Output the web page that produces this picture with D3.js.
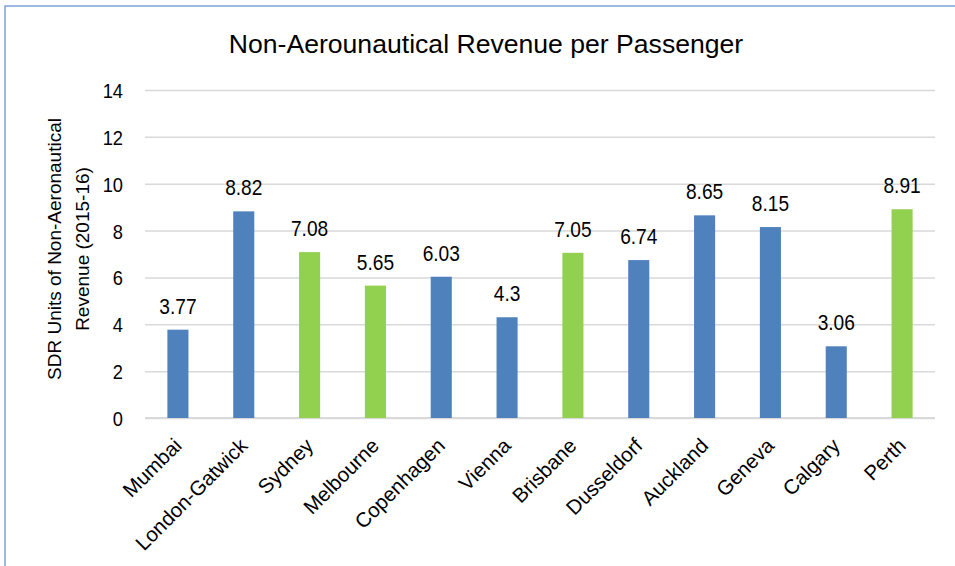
<!DOCTYPE html>
<html>
<head>
<meta charset="utf-8">
<script src="https://cdn.jsdelivr.net/npm/d3@7"></script>
<style>
  html, body { margin: 0; padding: 0; background: #fff; }
  svg text { font-family: "Liberation Sans", Arial, sans-serif; fill: #000; }
</style>
</head>
<body>
<svg id="chart" width="955" height="566"></svg>
<script>
// Airports and their non-aeronautical revenue per passenger (SDR, 2015-16)
const airports = ["Mumbai", "London-Gatwick", "Sydney", "Melbourne", "Copenhagen", "Vienna",
                  "Brisbane", "Dusseldorf", "Auckland", "Geneva", "Calgary", "Perth"];
const revenue = [3.77, 8.82, 7.08, 5.65, 6.03, 4.3, 7.05, 6.74, 8.65, 8.15, 3.06, 8.91];
// Australian airports are highlighted
const group = ["other", "other", "aus", "aus", "other", "other", "aus", "other", "other", "other", "other", "aus"];
const yTicks = [0, 2, 4, 6, 8, 10, 12, 14];
const titleText = "Non-Aerounautical Revenue per Passenger";
const yTitleLines = ["SDR Units of Non-Aeronautical", "Revenue (2015-16)"];

const colors = { other: "#4F81BD", aus: "#92D050" };
// numbers are drawn in a slightly condensed face
const numSqueeze = 0.87;

const svg = d3.select("#chart");
const plot = { left: 145, right: 935, top: 90, bottom: 418 };

// Outer frame
svg.append("rect")
  .attr("x", 5).attr("y", 6)
  .attr("width", 1000).attr("height", 600)
  .attr("fill", "none")
  .attr("stroke", "#7EA3D6")
  .attr("stroke-width", 1.5);

const x = d3.scaleBand()
  .domain(airports)
  .range([plot.left, plot.right])
  .paddingInner(0.68)
  .paddingOuter(0.34);

const y = d3.scaleLinear()
  .domain([0, 14])
  .range([plot.bottom, plot.top]);

// Horizontal gridlines + y tick labels
const yAxis = d3.axisLeft(y)
  .tickValues(yTicks)
  .tickSize(-(plot.right - plot.left))
  .tickPadding(0)
  .tickFormat(d3.format("d"));

const gy = svg.append("g")
  .attr("transform", `translate(${plot.left},0)`)
  .call(yAxis);
gy.attr("font-family", null);
gy.select(".domain").remove();
gy.selectAll(".tick line")
  .attr("stroke", "#D9D9D9")
  .attr("stroke-width", 1.5);
gy.selectAll(".tick text")
  .attr("font-size", 21)
  .attr("x", 0)
  .attr("dy", "0.36em")
  .attr("transform", `translate(-22,0) scale(${numSqueeze},1)`);

// Baseline
svg.append("line")
  .attr("x1", plot.left).attr("x2", plot.right)
  .attr("y1", y(0)).attr("y2", y(0))
  .attr("stroke", "#D9D9D9")
  .attr("stroke-width", 2);

// Bars
svg.append("g").selectAll("rect")
  .data(airports)
  .join("rect")
  .attr("x", d => x(d))
  .attr("width", x.bandwidth())
  .attr("y", (d, i) => y(revenue[i]))
  .attr("height", (d, i) => y(0) - y(revenue[i]))
  .attr("fill", (d, i) => colors[group[i]]);

// Value labels
svg.append("g").selectAll("text")
  .data(airports)
  .join("text")
  .attr("transform", (d, i) =>
    `translate(${x(d) + x.bandwidth() / 2},${y(revenue[i]) - 16}) scale(${numSqueeze},1)`)
  .attr("text-anchor", "middle")
  .attr("font-size", 22)
  .text((d, i) => revenue[i]);

// Category labels, rotated
const xAxis = d3.axisBottom(x).tickSize(0).tickPadding(0);
const gx = svg.append("g")
  .attr("transform", `translate(0,${plot.bottom})`)
  .call(xAxis);
gx.attr("font-family", null);
gx.select(".domain").remove();
gx.selectAll(".tick text")
  .attr("font-size", 20.5)
  .attr("text-anchor", "end")
  .attr("x", 0).attr("y", 0).attr("dy", 0)
  .attr("transform", "translate(5,29) rotate(-45)");

// Title
svg.append("text")
  .attr("x", 486).attr("y", 53)
  .attr("text-anchor", "middle")
  .attr("font-size", 26.6)
  .text(titleText);

// Y axis title (two lines)
const yt = svg.append("text")
  .attr("transform", "translate(0,249) rotate(-90)")
  .attr("text-anchor", "middle")
  .attr("font-size", 19);
yt.selectAll("tspan")
  .data(yTitleLines)
  .join("tspan")
  .attr("x", 0)
  .attr("y", (d, i) => 61 + i * 28)
  .text(d => d);
</script>
</body>
</html>
